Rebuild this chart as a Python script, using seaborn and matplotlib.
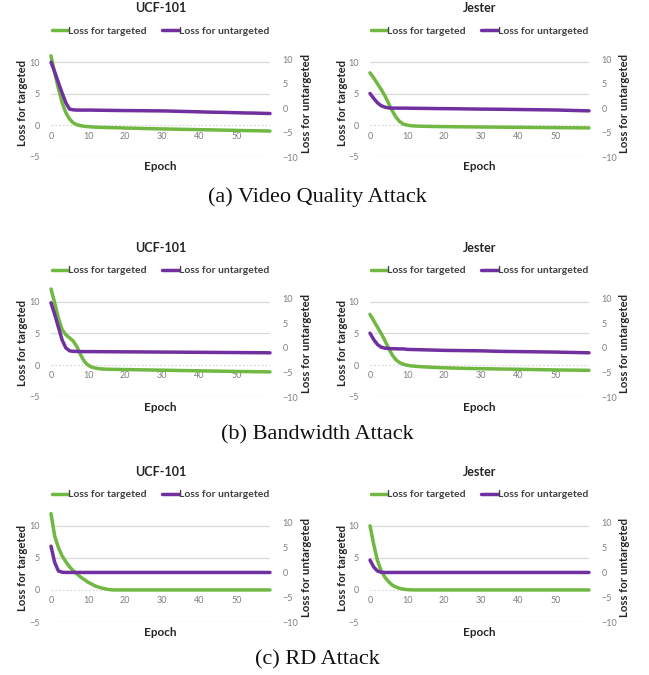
import matplotlib
matplotlib.use("Agg")
import matplotlib.pyplot as plt
import seaborn as sns
import pandas as pd
from matplotlib.lines import Line2D

# ---------------- data ----------------
epochs = list(range(60))

a_ucf_targeted = [11.0, 8.3, 5.8, 3.6, 2.0, 1.0, 0.4, 0.1, -0.05, -0.15,
                  -0.2, -0.25, -0.28, -0.3, -0.32, -0.34, -0.35, -0.37, -0.38, -0.4,
                  -0.42, -0.43, -0.45, -0.46, -0.48, -0.5, -0.5, -0.52, -0.53, -0.55,
                  -0.56, -0.57, -0.58, -0.6, -0.6, -0.62, -0.63, -0.64, -0.65, -0.66,
                  -0.68, -0.69, -0.7, -0.71, -0.72, -0.74, -0.75, -0.76, -0.77, -0.78,
                  -0.8, -0.81, -0.82, -0.83, -0.84, -0.85, -0.86, -0.87, -0.88, -0.9]
a_ucf_untargeted = [9.4, 7.4, 5.2, 3.1, 1.1, -0.2, -0.35, -0.4, -0.4, -0.4,
                    -0.4, -0.4, -0.42, -0.43, -0.44, -0.45, -0.46, -0.47, -0.48, -0.49,
                    -0.5, -0.5, -0.51, -0.52, -0.52, -0.53, -0.54, -0.55, -0.55, -0.56,
                    -0.57, -0.58, -0.6, -0.62, -0.64, -0.66, -0.68, -0.7, -0.72, -0.74,
                    -0.76, -0.78, -0.8, -0.82, -0.84, -0.85, -0.86, -0.88, -0.9, -0.92,
                    -0.94, -0.96, -0.98, -1.0, -1.0, -1.02, -1.04, -1.06, -1.08, -1.1]
a_jes_targeted = [8.3, 7.5, 6.6, 5.7, 4.7, 3.5, 2.3, 1.3, 0.6, 0.2,
                  0.05, -0.05, -0.1, -0.12, -0.14, -0.15, -0.16, -0.17, -0.18, -0.19,
                  -0.2, -0.2, -0.21, -0.22, -0.22, -0.23, -0.24, -0.24, -0.25, -0.25,
                  -0.26, -0.26, -0.27, -0.27, -0.28, -0.28, -0.29, -0.29, -0.3, -0.3,
                  -0.31, -0.31, -0.32, -0.32, -0.33, -0.33, -0.34, -0.34, -0.35, -0.35,
                  -0.36, -0.36, -0.37, -0.37, -0.38, -0.38, -0.39, -0.39, -0.4, -0.4]
a_jes_untargeted = [3.0, 2.0, 1.1, 0.5, 0.2, 0.05, 0.0, 0.0, 0.0, 0.0,
                    0.0, -0.02, -0.03, -0.04, -0.05, -0.06, -0.07, -0.08, -0.09, -0.1,
                    -0.1, -0.11, -0.12, -0.13, -0.14, -0.15, -0.16, -0.17, -0.18, -0.19,
                    -0.2, -0.2, -0.21, -0.22, -0.22, -0.23, -0.24, -0.25, -0.26, -0.27,
                    -0.28, -0.29, -0.3, -0.31, -0.32, -0.33, -0.34, -0.35, -0.36, -0.37,
                    -0.38, -0.4, -0.42, -0.44, -0.46, -0.48, -0.5, -0.52, -0.54, -0.55]

b_ucf_targeted = [12.0, 9.8, 7.4, 5.6, 4.8, 4.3, 3.8, 2.9, 1.6, 0.6,
                  0.0, -0.3, -0.45, -0.55, -0.6, -0.62, -0.64, -0.65, -0.66, -0.67,
                  -0.68, -0.69, -0.7, -0.71, -0.72, -0.73, -0.74, -0.75, -0.76, -0.77,
                  -0.78, -0.79, -0.8, -0.81, -0.82, -0.83, -0.84, -0.85, -0.86, -0.87,
                  -0.88, -0.89, -0.9, -0.91, -0.92, -0.93, -0.94, -0.95, -0.96, -0.97,
                  -0.98, -0.99, -1.0, -1.0, -1.01, -1.02, -1.03, -1.03, -1.04, -1.05]
b_ucf_untargeted = [9.2, 6.8, 4.2, 1.6, 0.0, -0.6, -0.7, -0.72, -0.74, -0.75,
                    -0.75, -0.76, -0.76, -0.77, -0.77, -0.78, -0.78, -0.79, -0.79, -0.8,
                    -0.8, -0.8, -0.81, -0.81, -0.82, -0.82, -0.83, -0.83, -0.84, -0.84,
                    -0.85, -0.85, -0.86, -0.86, -0.87, -0.87, -0.88, -0.88, -0.89, -0.89,
                    -0.9, -0.9, -0.91, -0.91, -0.92, -0.92, -0.93, -0.93, -0.94, -0.94,
                    -0.95, -0.95, -0.96, -0.96, -0.97, -0.97, -0.98, -0.98, -0.99, -1.0]
b_jes_targeted = [8.0, 7.0, 6.0, 5.0, 3.9, 2.7, 1.6, 0.85, 0.4, 0.15,
                  0.0, -0.1, -0.15, -0.2, -0.24, -0.27, -0.3, -0.33, -0.36, -0.38,
                  -0.4, -0.42, -0.44, -0.45, -0.47, -0.48, -0.5, -0.51, -0.52, -0.53,
                  -0.54, -0.55, -0.56, -0.57, -0.58, -0.59, -0.6, -0.61, -0.62, -0.63,
                  -0.64, -0.65, -0.66, -0.67, -0.68, -0.69, -0.7, -0.71, -0.72, -0.73,
                  -0.74, -0.75, -0.75, -0.76, -0.77, -0.77, -0.78, -0.79, -0.79, -0.8]
b_jes_untargeted = [3.0, 1.7, 0.7, 0.15, -0.05, -0.12, -0.16, -0.18, -0.2, -0.2,
                    -0.3, -0.32, -0.34, -0.36, -0.38, -0.4, -0.42, -0.44, -0.46, -0.48,
                    -0.5, -0.51, -0.52, -0.53, -0.54, -0.55, -0.56, -0.57, -0.58, -0.59,
                    -0.6, -0.62, -0.64, -0.66, -0.68, -0.7, -0.71, -0.72, -0.73, -0.74,
                    -0.75, -0.76, -0.77, -0.78, -0.79, -0.8, -0.81, -0.82, -0.83, -0.84,
                    -0.85, -0.87, -0.89, -0.9, -0.92, -0.93, -0.95, -0.96, -0.98, -1.0]

c_ucf_targeted = [11.9, 8.4, 6.6, 5.3, 4.4, 3.6, 3.0, 2.5, 2.0, 1.6,
                  1.2, 0.9, 0.6, 0.4, 0.25, 0.12, 0.04, 0.0, 0.0, 0.0,
                  0.0, 0.0, 0.0, 0.0, 0.0, 0.0, 0.0, 0.0, 0.0, 0.0,
                  0.0, 0.0, 0.0, 0.0, 0.0, 0.0, 0.0, 0.0, 0.0, 0.0,
                  0.0, 0.0, 0.0, 0.0, 0.0, 0.0, 0.0, 0.0, 0.0, 0.0,
                  0.0, 0.0, 0.0, 0.0, 0.0, 0.0, 0.0, 0.0, 0.0, 0.0]
c_ucf_untargeted = [5.3, 2.0, 0.3, 0.05, 0.0, 0.0, 0.0, 0.0, 0.0, 0.0,
                    0.0, 0.0, 0.0, 0.0, 0.0, 0.0, 0.0, 0.0, 0.0, 0.0,
                    0.0, 0.0, 0.0, 0.0, 0.0, 0.0, 0.0, 0.0, 0.0, 0.0,
                    0.0, 0.0, 0.0, 0.0, 0.0, 0.0, 0.0, 0.0, 0.0, 0.0,
                    0.0, 0.0, 0.0, 0.0, 0.0, 0.0, 0.0, 0.0, 0.0, 0.0,
                    0.0, 0.0, 0.0, 0.0, 0.0, 0.0, 0.0, 0.0, 0.0, 0.0]
c_jes_targeted = [10.0, 7.1, 4.6, 3.0, 2.0, 1.3, 0.75, 0.45, 0.25, 0.12,
                  0.05, 0.02, 0.0, 0.0, 0.0, 0.0, 0.0, 0.0, 0.0, 0.0,
                  0.0, 0.0, 0.0, 0.0, 0.0, 0.0, 0.0, 0.0, 0.0, 0.0,
                  0.0, 0.0, 0.0, 0.0, 0.0, 0.0, 0.0, 0.0, 0.0, 0.0,
                  0.0, 0.0, 0.0, 0.0, 0.0, 0.0, 0.0, 0.0, 0.0, 0.0,
                  0.0, 0.0, 0.0, 0.0, 0.0, 0.0, 0.0, 0.0, 0.0, 0.0]
c_jes_untargeted = [2.5, 1.1, 0.3, 0.05, 0.0, 0.0, 0.0, 0.0, 0.0, 0.0,
                    0.0, 0.0, 0.0, 0.0, 0.0, 0.0, 0.0, 0.0, 0.0, 0.0,
                    0.0, 0.0, 0.0, 0.0, 0.0, 0.0, 0.0, 0.0, 0.0, 0.0,
                    0.0, 0.0, 0.0, 0.0, 0.0, 0.0, 0.0, 0.0, 0.0, 0.0,
                    0.0, 0.0, 0.0, 0.0, 0.0, 0.0, 0.0, 0.0, 0.0, 0.0,
                    0.0, 0.0, 0.0, 0.0, 0.0, 0.0, 0.0, 0.0, 0.0, 0.0]

datasets = ["UCF-101", "Jester"]
captions = ["(a) Video Quality Attack", "(b) Bandwidth Attack", "(c) RD Attack"]
series_names = ["Loss for targeted", "Loss for untargeted"]
x_ticks = [0, 10, 20, 30, 40, 50]
left_ticks = [-5, 0, 5, 10]
right_ticks = [-10, -5, 0, 5, 10]

grid_data = [
    [(a_ucf_targeted, a_ucf_untargeted), (a_jes_targeted, a_jes_untargeted)],
    [(b_ucf_targeted, b_ucf_untargeted), (b_jes_targeted, b_jes_untargeted)],
    [(c_ucf_targeted, c_ucf_untargeted), (c_jes_targeted, c_jes_untargeted)],
]

# ---------------- style ----------------
sns.set_style("white")
plt.rcParams["font.family"] = ["Lato", "DejaVu Sans"]

GREEN = "#71B842"
PURPLE = "#7030A0"
GRID = "#D9D9D9"
TICKC = "#7F7F7F"
LABC = "#262626"

W, H = 649, 675
fig = plt.figure(figsize=(W / 100, H / 100), dpi=100)
fig.patch.set_facecolor("white")

rows_y = [(49.5, 157), (289, 397), (513, 622)]
cols_x = [(51, 270), (370, 589)]
caption_y = [197, 435, 660]


def rect(x0, x1, y0, y1):
    return [x0 / W, 1 - y1 / H, (x1 - x0) / W, (y1 - y0) / H]


for r in range(3):
    y0, y1 = rows_y[r]
    hpx = y1 - y0
    for c in range(2):
        x0, x1 = cols_x[c]
        wpx = x1 - x0
        tgt, untgt = grid_data[r][c]
        ax = fig.add_axes(rect(x0, x1, y0, y1))
        ax2 = ax.twinx()
        df = pd.DataFrame({"Epoch": epochs, "t": tgt, "u": untgt})

        for v in left_ticks:
            ax.axhline(v, color=GRID, lw=0.9,
                       ls=(0, (1.5, 1.5)) if v == 0 else "-", zorder=0)

        sns.lineplot(data=df, x="Epoch", y="t", ax=ax, color=GREEN, lw=2.5,
                     clip_on=False, zorder=3)
        sns.lineplot(data=df, x="Epoch", y="u", ax=ax2, color=PURPLE, lw=2.5,
                     clip_on=False, zorder=3)

        ax.set_xlim(0, 59)
        ax.set_ylim(-5, 12)
        ax2.set_ylim(-10, 12)
        ax.set_xticks(x_ticks)
        ax.set_yticks(left_ticks)
        ax2.set_yticks(right_ticks)
        for a in (ax, ax2):
            for s in a.spines.values():
                s.set_visible(False)
            a.set_xlabel("")
            a.set_ylabel("")
        ax.spines["bottom"].set_position(("data", 0))
        ax.tick_params(axis="x", length=0, pad=4.5, labelsize=6.5, labelcolor=TICKC)
        ax.tick_params(axis="y", length=0, pad=8, labelsize=6.5, labelcolor=TICKC)
        ax2.tick_params(axis="y", length=0, pad=9, labelsize=6.5, labelcolor=TICKC)

        # labels
        ax.text(-28 / wpx, 0.5, series_names[0], transform=ax.transAxes,
                rotation=90, ha="center", va="center", fontsize=8.2,
                fontweight="bold", color=LABC)
        ax.text(1 + 36 / wpx, 0.5, series_names[1], transform=ax.transAxes,
                rotation=90, ha="center", va="center", fontsize=8.2,
                fontweight="bold", color=LABC)
        ax.text(0.5, -10 / hpx, "Epoch", transform=ax.transAxes,
                ha="center", va="center", fontsize=8.5, fontweight="bold",
                color=LABC)
        ax.text(0.5, 1 + 41 / hpx, datasets[c], transform=ax.transAxes,
                ha="center", va="center", fontsize=9, fontweight="bold",
                color=LABC)

        handles = [Line2D([], [], color=GREEN, lw=2.5),
                   Line2D([], [], color=PURPLE, lw=2.5)]
        leg = ax.legend(handles, series_names, loc="center",
                        bbox_to_anchor=(0.5, 1 + 18.5 / hpx), ncol=2,
                        frameon=False, fontsize=7.5, handlelength=1.6,
                        handletextpad=0.0, columnspacing=1.5, borderaxespad=0)
        for t in leg.get_texts():
            t.set_fontweight("bold")
            t.set_color("#404040")
        if ax2.get_legend() is not None:
            ax2.get_legend().remove()

    fig.text(317 / W, 1 - caption_y[r] / H, captions[r], ha="center", va="center",
             fontsize=16, family=["Liberation Serif", "DejaVu Serif"], color="#111111")

fig.savefig("out.png", dpi=100, facecolor="white")
